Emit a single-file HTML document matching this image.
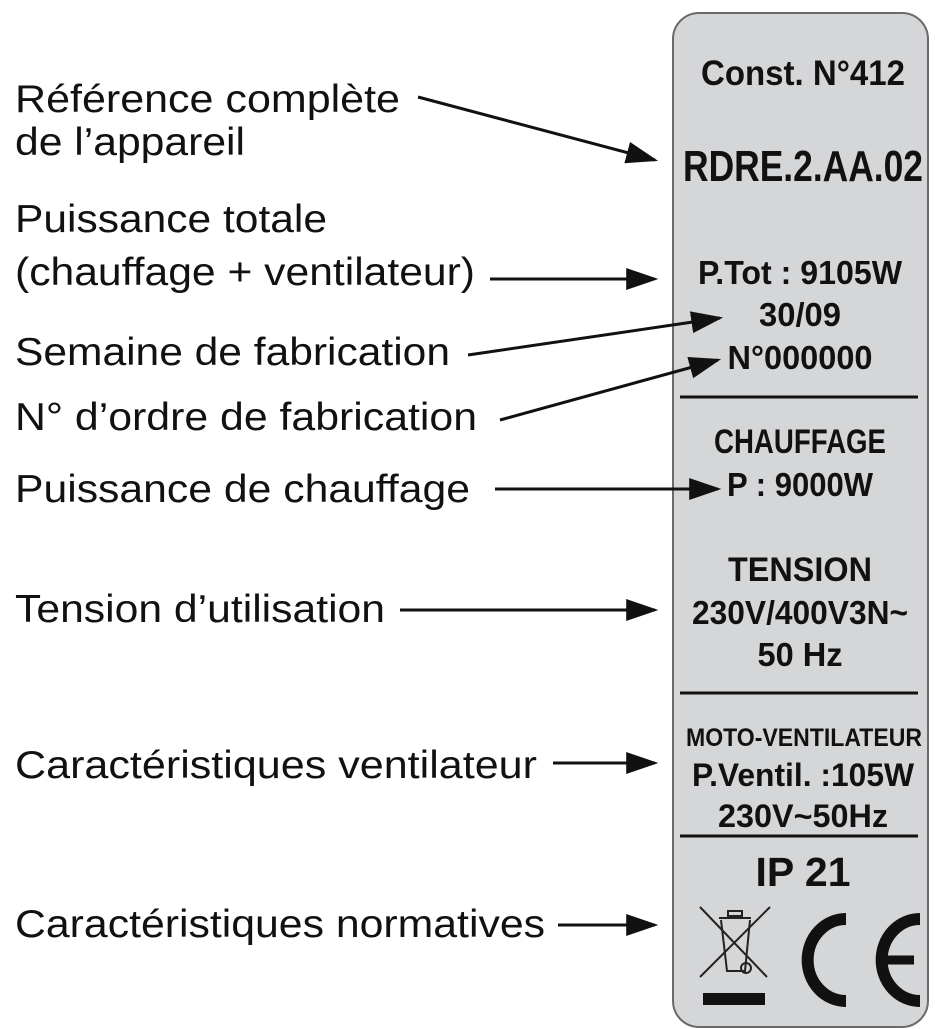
<!DOCTYPE html>
<html><head><meta charset="utf-8"><style>
html,body{margin:0;padding:0;background:#fff;width:935px;height:1029px;overflow:hidden}
svg text{font-family:"Liberation Sans",sans-serif}
</style></head><body>
<svg width="935" height="1029" viewBox="0 0 935 1029" xmlns="http://www.w3.org/2000/svg">
<defs>
<marker id="b" viewBox="0 0 10 8" refX="9" refY="4" markerWidth="32" markerHeight="22" orient="auto" markerUnits="userSpaceOnUse" preserveAspectRatio="none"><path d="M0,0 L10,4 L0,8 Z" fill="#111"/></marker></defs>
<rect x="673" y="13" width="255" height="1014" rx="26" fill="#d5d6d8" stroke="#6a6a6a" stroke-width="2"/>
<g fill="#111" font-size="39">
<text x="15" y="112" textLength="385" lengthAdjust="spacingAndGlyphs">Référence complète</text>
<text x="15" y="155" textLength="230" lengthAdjust="spacingAndGlyphs">de l’appareil</text>
<text x="15" y="232" textLength="312" lengthAdjust="spacingAndGlyphs">Puissance totale</text>
<text x="15" y="285" textLength="460" lengthAdjust="spacingAndGlyphs">(chauffage + ventilateur)</text>
<text x="15" y="365" textLength="435" lengthAdjust="spacingAndGlyphs">Semaine de fabrication</text>
<text x="15" y="430" textLength="462" lengthAdjust="spacingAndGlyphs">N° d’ordre de fabrication</text>
<text x="15" y="502" textLength="455" lengthAdjust="spacingAndGlyphs">Puissance de chauffage</text>
<text x="15" y="622" textLength="370" lengthAdjust="spacingAndGlyphs">Tension d’utilisation</text>
<text x="15" y="778" textLength="522" lengthAdjust="spacingAndGlyphs">Caractéristiques ventilateur</text>
<text x="15" y="937" textLength="530" lengthAdjust="spacingAndGlyphs">Caractéristiques normatives</text>
</g>
<g stroke="#111" stroke-width="3" marker-end="url(#b)">
<line x1="418" y1="97" x2="655" y2="160"/>
<line x1="490" y1="279" x2="655" y2="279"/>
<line x1="468" y1="355" x2="720" y2="318"/>
<line x1="500" y1="420" x2="718" y2="360"/>
<line x1="495" y1="489" x2="718" y2="489"/>
<line x1="400" y1="610" x2="655" y2="610"/>
<line x1="553" y1="763" x2="655" y2="763"/>
<line x1="558" y1="925" x2="655" y2="925"/>
</g>
<g fill="#111" font-weight="bold" text-anchor="middle">
<text x="803" y="85" font-size="35" textLength="204" lengthAdjust="spacingAndGlyphs">Const. N°412</text>
<text x="803" y="181" font-size="44" textLength="240" lengthAdjust="spacingAndGlyphs">RDRE.2.AA.02</text>
<text x="800" y="284" font-size="33" textLength="204" lengthAdjust="spacingAndGlyphs">P.Tot : 9105W</text>
<text x="800" y="326" font-size="33" textLength="82" lengthAdjust="spacingAndGlyphs">30/09</text>
<text x="800" y="369" font-size="33" textLength="145" lengthAdjust="spacingAndGlyphs">N°000000</text>
<text x="800" y="453" font-size="34" textLength="172" lengthAdjust="spacingAndGlyphs">CHAUFFAGE</text>
<text x="800" y="496" font-size="33" textLength="146" lengthAdjust="spacingAndGlyphs">P : 9000W</text>
<text x="800" y="581" font-size="34" textLength="144" lengthAdjust="spacingAndGlyphs">TENSION</text>
<text x="800" y="624" font-size="33" textLength="216" lengthAdjust="spacingAndGlyphs">230V/400V3N~</text>
<text x="800" y="666" font-size="33" textLength="85" lengthAdjust="spacingAndGlyphs">50 Hz</text>
<text x="804" y="746" font-size="25" textLength="236" lengthAdjust="spacingAndGlyphs">MOTO-VENTILATEUR</text>
<text x="803" y="786" font-size="32" textLength="222" lengthAdjust="spacingAndGlyphs">P.Ventil. :105W</text>
<text x="803" y="827" font-size="32" textLength="170" lengthAdjust="spacingAndGlyphs">230V~50Hz</text>
<text x="803" y="886" font-size="41" textLength="95" lengthAdjust="spacingAndGlyphs">IP 21</text>
</g>
<g stroke="#111" stroke-width="3">
<line x1="680" y1="397" x2="918" y2="397"/>
<line x1="680" y1="693" x2="918" y2="693"/>
<line x1="680" y1="836" x2="918" y2="836"/>
</g>
<g stroke="#222" stroke-width="2" fill="none">
<line x1="700" y1="907" x2="767" y2="977"/>
<line x1="770" y1="907" x2="700" y2="977"/>
<path d="M719,918 L751,918 M721,920 L727,971 L745,971 L750,920"/>
<rect x="728" y="911" width="14" height="5"/>
<circle cx="746" cy="968" r="5"/>
</g>
<rect x="703" y="993" width="62" height="12" fill="#111"/>
<g fill="none" stroke="#111" stroke-width="12">
<path d="M846,919 A29,31 0 1 0 846,1001" />
<path d="M920,919 A29,31 0 1 0 920,1001" />
</g>
<line x1="880" y1="960" x2="914" y2="960" stroke="#111" stroke-width="9"/>
</svg>
</body></html>
